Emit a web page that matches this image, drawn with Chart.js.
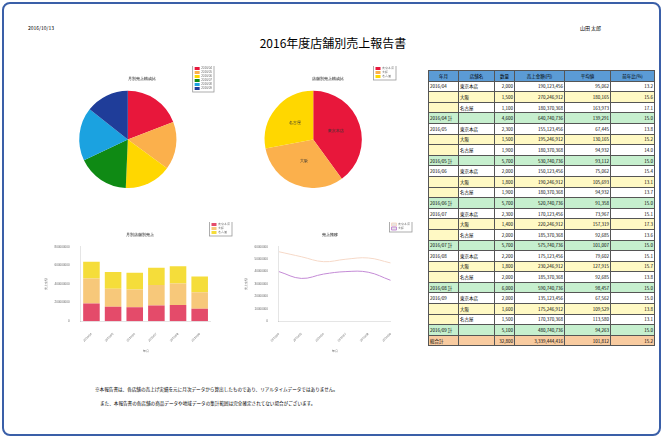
<!DOCTYPE html>
<html><head><meta charset="utf-8">
<script src="https://cdn.jsdelivr.net/npm/chart.js"></script>
<style>
body{margin:0;width:666px;height:442px;background:#fff;font-family:"Noto Sans CJK JP",sans-serif;overflow:hidden}
#frame{position:absolute;left:2px;top:2px;width:659px;height:434px;border:2px solid #3a5fa8;border-radius:8px;box-sizing:border-box}
.c{position:absolute}
#tbl{position:absolute;left:428px;top:70px;width:226px;border-collapse:collapse;font-size:4.5px;table-layout:fixed}
#tbl td{border:0.8px solid #555;height:9.6px;padding:0 1px;white-space:nowrap;overflow:hidden}
#tbl td.n{text-align:right}
.t{position:absolute;white-space:nowrap}
</style></head><body>
<div id="frame"></div>
<div class="t" style="left:28px;top:24px;font-size:5px">2016/10/13</div>
<div class="t" style="left:580px;top:24px;font-size:5px">山田 太郎</div>
<div class="t" style="left:0;width:666px;text-align:center;top:34px;font-size:12px">2016年度店舗別売上報告書</div>
<div class="c" style="left:62px;top:66px;width:170px;height:122px"><canvas id="p1"></canvas></div>
<div class="c" style="left:252px;top:66px;width:152px;height:122px"><canvas id="p2"></canvas></div>
<div class="c" style="left:40px;top:222px;width:200px;height:135px"><canvas id="b1"></canvas></div>
<div class="c" style="left:240px;top:222px;width:180px;height:135px"><canvas id="l1"></canvas></div>
<table id="tbl"></table>
<div class="t" style="left:95px;top:386px;font-size:4.6px">※本報告書は、各店舗の売上げ実績を元に月次データから算出したものであり、リアルタイムデータではありません。</div>
<div class="t" style="left:100px;top:400px;font-size:4.6px">また、本報告書の各店舗の商品データや地域データの集計範囲は完全確定されてない場合がございます。</div>
<script>
const months=["2016/04","2016/05","2016/06","2016/07","2016/08","2016/09"];
const stores=["東京本店","大阪","名古屋"];
const salesTokyo=[190,155,150,170,175,135];
const salesOsaka=[270,195,190,220,230,175];
const salesNagoya=[180,180,180,185,185,170];
const monthTotals=[640,530,520,575,590,480];
const storeShares=[40,32,28];
const lineA=[560,520,480,500,510,470];
const lineB=[400,345,380,400,395,330];
const qty=[[2000,1500,1100],[2300,1500,1900],[2000,1800,1900],[2300,1400,2000],[2200,1800,2000],[2000,1600,1500]];
const yoy=[[13.2,15.6,17.1],[13.8,15.2,14.0],[15.4,13.1,13.7],[15.1,17.3,13.6],[15.1,15.7,13.8],[15.0,13.8,13.1]];
const colMonth=['#e8173b','#fbb04c','#ffd700','#0f8a14','#1ba2e0','#1f3d99'];
const colStore=['#e8173b','#fbb04c','#ffd700'];
Chart.defaults.font.size=4;Chart.defaults.animation=false;Chart.defaults.maintainAspectRatio=false;
const leg={position:'right',align:'start',labels:{boxWidth:5,boxHeight:3,font:{size:3},padding:1}};
const box={id:'lbox',afterDraw(c){const l=c.legend;if(!l||!l.legendHitBoxes.length)return;const hb=l.legendHitBoxes;
let x0=Math.min(...hb.map(b=>b.left)),y0=Math.min(...hb.map(b=>b.top)),x1=Math.max(...hb.map(b=>b.left+b.width)),y1=Math.max(...hb.map(b=>b.top+b.height));
const x=c.ctx;x.strokeStyle='#999';x.lineWidth=0.8;x.strokeRect(x0-2,y0-2,x1-x0+4,y1-y0+4);}};
new Chart('p1',{type:'pie',data:{labels:months,datasets:[{data:monthTotals,backgroundColor:colMonth,borderWidth:0}]},
options:{plugins:{legend:leg,title:{display:true,text:'月別売上構成比',font:{size:4}}},layout:{padding:{right:10}}},plugins:[box]});
new Chart('p2',{type:'pie',data:{labels:stores,datasets:[{data:storeShares,backgroundColor:colStore,borderWidth:0}]},
options:{plugins:{legend:leg,title:{display:true,text:'店舗別売上構成比',font:{size:4}}}},
plugins:[box,{id:'lbl',afterDatasetsDraw(c){const x=c.ctx;x.font='4px sans-serif';x.fillStyle='#333';x.textAlign='center';
c.getDatasetMeta(0).data.forEach((a,i)=>{const p=a.tooltipPosition();x.fillText(stores[i],p.x,p.y);});}}]});
const ax={grid:{display:false},ticks:{font:{size:3}}};
new Chart('b1',{type:'bar',data:{labels:months,datasets:[
{label:stores[0],data:salesTokyo,backgroundColor:'#e44b6a'},
{label:stores[1],data:salesOsaka,backgroundColor:'#f7c87a'},
{label:stores[2],data:salesNagoya,backgroundColor:'#f5dd3a'}]},
options:{datasets:{bar:{barPercentage:0.85,categoryPercentage:0.9}},plugins:{legend:leg,title:{display:true,text:'月別店舗別売上',font:{size:4}}},
scales:{x:{stacked:true,...ax,ticks:{font:{size:3},maxRotation:45,minRotation:45},title:{display:true,text:'年月',font:{size:3}}},
y:{stacked:true,...ax,min:0,max:800,ticks:{stepSize:200,font:{size:3},callback:v=>v*1000000},title:{display:true,text:'売上金額',font:{size:3}}}}},plugins:[box]});
new Chart('l1',{type:'line',data:{labels:months,datasets:[
{label:stores[0],data:lineA,borderColor:'#f6d9c8',borderWidth:1,pointRadius:0,tension:0.4},
{label:stores[1],data:lineB,borderColor:'#c48bd6',borderWidth:1,pointRadius:0,tension:0.4}]},
options:{plugins:{legend:leg,title:{display:true,text:'売上推移',font:{size:4}}},
scales:{x:{...ax,ticks:{font:{size:3},maxRotation:45,minRotation:45},title:{display:true,text:'年月',font:{size:3}}},
y:{...ax,min:0,max:600,ticks:{stepSize:100,font:{size:3},callback:v=>v*100000},title:{display:true,text:'売上金額',font:{size:3}}}}},plugins:[box]});
const f=n=>n.toLocaleString('en-US');
let h='<colgroup><col style="width:30px"><col style="width:36px"><col style="width:20px"><col style="width:50px"><col style="width:46px"><col style="width:44px"></colgroup>';
h+='<tr style="background:#5b9bd5;color:#000">'+['年月','店舗名','数量','売上金額(円)','平均値','前年比(%)'].map(s=>'<td style="text-align:center">'+s+'</td>').join('')+'</tr>';
const salesArr=[salesTokyo,salesOsaka,salesNagoya];let gq=0,gs=0;
months.forEach((m,i)=>{let tq=0,ts=0;
 stores.forEach((s,j)=>{const q=qty[i][j],sv=salesArr[j][i]*1000000+123456*(j+1);tq+=q;ts+=sv;
  const bg=j==1?'#fff9c4':'#fff';
  h+='<tr><td style="background:'+(j==0?'#fff':'#fff9c4')+'">'+(j==0?m:'')+'</td><td style="background:'+bg+'">'+s+'</td><td class="n" style="background:'+bg+'">'+f(q)+'</td><td class="n" style="background:'+bg+'">'+f(sv)+'</td><td class="n" style="background:'+bg+'">'+f(Math.round(sv/q))+'</td><td class="n" style="background:'+bg+'">'+yoy[i][j].toFixed(1)+'</td></tr>';});
 gq+=tq;gs+=ts;
 h+='<tr style="background:#c6efce"><td>'+m+' 計</td><td></td><td class="n">'+f(tq)+'</td><td class="n">'+f(ts)+'</td><td class="n">'+f(Math.round(ts/tq))+'</td><td class="n">15.0</td></tr>';});
h+='<tr style="background:#f8cba0"><td>総合計</td><td></td><td class="n">'+f(gq)+'</td><td class="n">'+f(gs)+'</td><td class="n">'+f(Math.round(gs/gq))+'</td><td class="n">15.2</td></tr>';
document.getElementById('tbl').innerHTML=h;
</script></body></html>
